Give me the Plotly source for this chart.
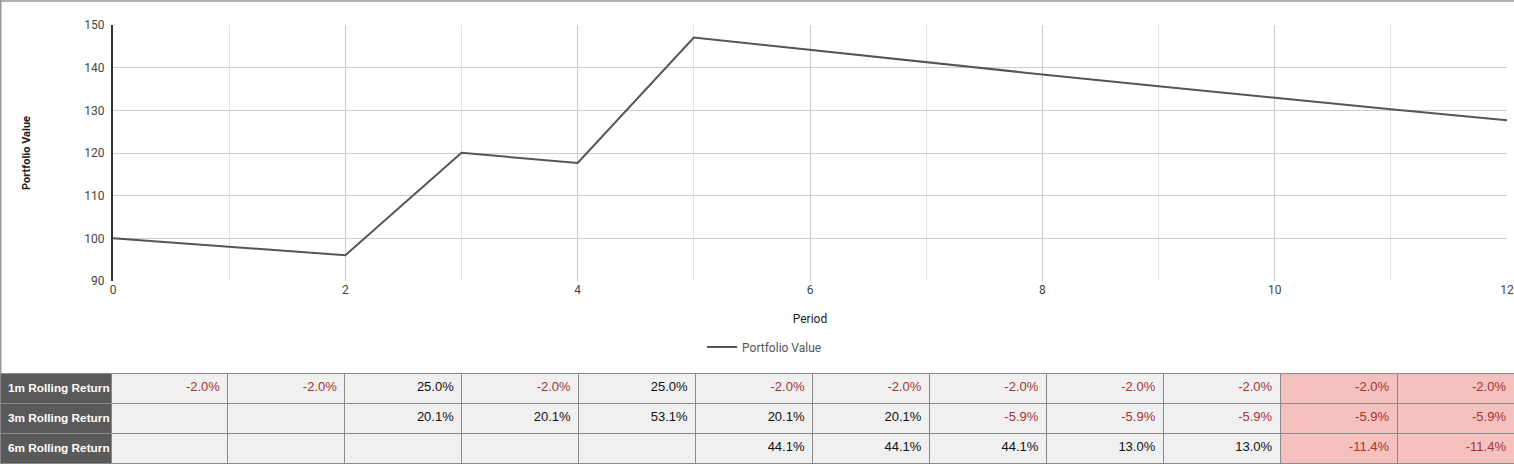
import plotly.graph_objects as go

# ---- data ----
periods = [0, 1, 2, 3, 4, 5, 6, 7, 8, 9, 10, 11, 12]
portfolio_value = [100.0, 98.0, 96.04, 120.05, 117.65, 147.06, 144.12,
                   141.24, 138.41, 135.65, 132.93, 130.27, 127.67]

table_periods = [1, 2, 3, 4, 5, 6, 7, 8, 9, 10, 11, 12]
row_labels = ["1m Rolling Return", "3m Rolling Return", "6m Rolling Return"]
ret_1m = [-2.0, -2.0, 25.0, -2.0, 25.0, -2.0, -2.0, -2.0, -2.0, -2.0, -2.0, -2.0]
ret_3m = [None, None, 20.1, 20.1, 53.1, 20.1, 20.1, -5.9, -5.9, -5.9, -5.9, -5.9]
ret_6m = [None, None, None, None, None, 44.1, 44.1, 44.1, 13.0, 13.0, -11.4, -11.4]
highlight_periods = [11, 12]

# ---- layout constants ----
W, H = 1514, 464
M_T = 25
PLOT_H = H - M_T
PLOT_L, PLOT_R = 113, 1507
PLOT_BOTTOM = 281
TABLE_TOP = 373

def fmt(v):
    return "" if v is None else f"{v:.1f}%"

def txt_color(v):
    return "#a83232" if (v is not None and v < 0) else "#111111"

def label(s):
    return "<b>" + s.replace(" ", "\u00a0") + "</b>"

CELL_BG = "#f0f0f0"
PINK = "#f4c1be"
HEAD_BG = "#5a5a5a"
FONT_T = "Liberation Sans, Arial"

fig = go.Figure()

fig.add_trace(go.Scatter(
    x=periods, y=portfolio_value, mode="lines", name="Portfolio Value",
    line=dict(color="#555555", width=2),
    xaxis="x", yaxis="y",
))

# table: header row = 1m returns, cell rows = 3m, 6m
head_vals = [label(row_labels[0])] + [fmt(v) for v in ret_1m]
head_fill = [HEAD_BG] + [PINK if p in highlight_periods else CELL_BG for p in table_periods]
head_font = ["#ffffff"] + [txt_color(v) for v in ret_1m]
col_size = [11.8] + [13] * 12

cell_vals = [[label(row_labels[1]), label(row_labels[2])]]
cell_fill = [[HEAD_BG, HEAD_BG]]
cell_font = [["#ffffff", "#ffffff"]]
for i, p in enumerate(table_periods):
    cell_vals.append([fmt(ret_3m[i]), fmt(ret_6m[i])])
    bg = PINK if p in highlight_periods else CELL_BG
    cell_fill.append([bg, bg])
    cell_font.append([txt_color(ret_3m[i]), txt_color(ret_6m[i])])

col_w = [111] + [(W - 111) / 12.0] * 12

fig.add_trace(go.Table(
    domain=dict(x=[0, 1], y=[0, (H - TABLE_TOP) / PLOT_H]),
    columnwidth=col_w,
    header=dict(values=head_vals, fill_color=head_fill,
                font=dict(color=head_font, size=col_size, family=FONT_T),
                align=["left"] + ["right"] * 12, height=30,
                line=dict(color="#8a8a8a", width=1)),
    cells=dict(values=cell_vals, fill_color=cell_fill,
               font=dict(color=cell_font, size=col_size, family=FONT_T),
               align=["left"] + ["right"] * 12, height=30,
               line=dict(color="#8a8a8a", width=1)),
))

fig.update_layout(
    width=W, height=H,
    margin=dict(l=0, r=0, t=M_T, b=0, autoexpand=False),
    paper_bgcolor="white", plot_bgcolor="white",
    font=dict(family="Roboto, Arial", size=12, color="#444444"),
    showlegend=True,
    legend=dict(orientation="h", x=0.505, xanchor="center", y=(H - 347) / PLOT_H,
                yanchor="middle", font=dict(size=12, color="#555555"),
                itemwidth=30),
    xaxis=dict(
        domain=[PLOT_L / W, PLOT_R / W],
        range=[0, 12], dtick=2, tick0=0,
        showgrid=True, gridcolor="#cccccc", gridwidth=1,
        minor=dict(dtick=1, showgrid=True, gridcolor="#e2e2e2", gridwidth=1),
        zeroline=False, showline=False, ticks="",
        tickfont=dict(size=12, color="#444444"),
        title=dict(text="Period", font=dict(size=12, color="#222222"), standoff=18),
        anchor="y", automargin=False,
    ),
    yaxis=dict(
        domain=[(H - PLOT_BOTTOM) / PLOT_H, 1],
        range=[90, 150], dtick=10,
        showgrid=True, gridcolor="#cccccc", gridwidth=1,
        zeroline=False, showline=True, linecolor="#333333", linewidth=2,
        ticks="", ticklabelstandoff=4,
        tickfont=dict(size=12, color="#444444"),
        title=dict(text="<b>Portfolio Value</b>", font=dict(size=11, color="#222222"),
                   standoff=52),
        anchor="x", automargin=False,
    ),
    shapes=[
        dict(type="line", xref="paper", yref="paper", x0=0, x1=1,
             y0=1 + (M_T - 1) / PLOT_H, y1=1 + (M_T - 1) / PLOT_H,
             line=dict(color="#999999", width=1.5)),
        dict(type="line", xref="paper", yref="paper", x0=0.0005, x1=0.0005,
             y0=(H - TABLE_TOP) / PLOT_H, y1=1 + M_T / PLOT_H,
             line=dict(color="#999999", width=1.5)),
    ],
)

fig.write_html("out.html", config={"displayModeBar": False},
               post_script="document.body.style.margin='0px';document.body.style.overflow='hidden';")
